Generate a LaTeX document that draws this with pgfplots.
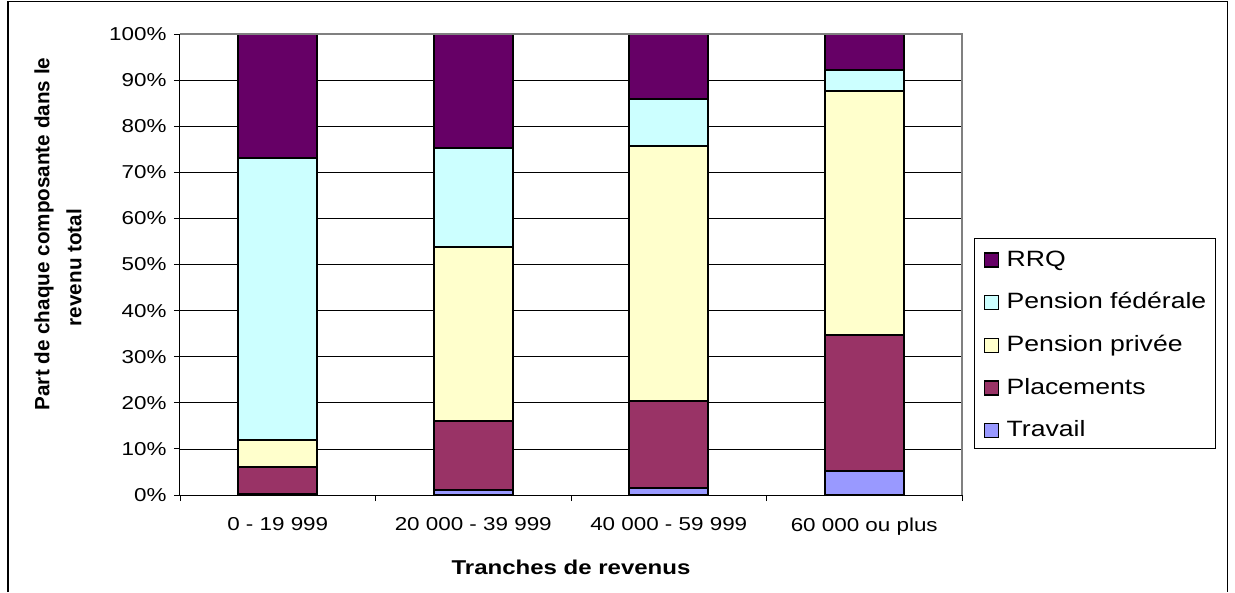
\documentclass[border=0pt]{standalone}
\usepackage{pgfplots}
\pgfplotsset{compat=1.18}
\usepackage{fontspec}
\setmainfont{Liberation Sans}[FakeStretch=1.2]
\newfontfamily\ylabfont{Liberation Sans}
\definecolor{crrq}{HTML}{660066}
\definecolor{cfed}{HTML}{CCFFFF}
\definecolor{cpriv}{HTML}{FFFFCC}
\definecolor{cplac}{HTML}{993366}
\definecolor{ctrav}{HTML}{9999FF}
\begin{document}
\begin{tikzpicture}[x=0.6pt,y=0.6pt]
\useasboundingbox (0,0) rectangle (1235,592);
\draw[line width=0.7pt] (8,0) -- (8,590.7) -- (1227.7,590.7) -- (1227.7,0);
\begin{axis}[
  at={(108pt,58.2pt)}, anchor=south west,
  width=469.2pt, height=276.6pt, scale only axis,
  ybar stacked, bar width=47.4pt,
  xmin=-0.5, xmax=3.5, ymin=0, ymax=100,
  xtick={0,1,2,3},
  xticklabels={0 - 19 999, 20 000 - 39 999, 40 000 - 59 999, 60 000 ou plus},
  minor xtick={-0.5,0.5,1.5,2.5,3.5},
  ytick={0,10,...,100},
  yticklabel={\pgfmathprintnumber{\tick}\%},
  tick align=outside,
  major tick length=3.6pt, minor tick length=3.6pt,
  major x tick style={draw=none},
  minor x tick style={black, line width=0.5pt},
  ytick style={black, line width=0.5pt},
  axis x line*=bottom, axis y line*=left,
  axis line style={black, line width=0.6pt, -},
  ymajorgrids, grid style={black, line width=0.45pt},
  ticklabel style={font=\fontsize{11.2}{13}\selectfont},
  xticklabel style={yshift=-6.5pt},
  yticklabel style={xshift=-1pt},
  /pgf/number format/assume math mode=true,
  clip=false,
  every axis plot/.append style={draw=black, line width=1.2pt},
  reverse legend,
  legend cell align=left,
  legend style={at={(1.0153,0.5575)}, anchor=north west,
    draw=black, line width=0.5pt,
    font=\fontsize{13.3}{16}\selectfont,
    row sep=10.2pt, inner xsep=4pt, inner ysep=4pt,
    nodes={text height=11pt, text depth=1.2pt, inner sep=1.6pt}},
  legend image code/.code={\draw[#1, line width=0.8pt] (1.6pt,-5.4pt) rectangle (10pt,3pt); \path (0pt,0pt) (12.6pt,0pt);},
]
\draw[gray, line width=1pt] (rel axis cs:0,1) -- (rel axis cs:1,1) -- (rel axis cs:1,0);
\addplot[fill=ctrav] coordinates {(0,0.2) (1,1.1) (2,1.6) (3,5.1)};
\addlegendentry{Travail}
\addplot[fill=cplac] coordinates {(0,5.8) (1,15.0) (2,18.9) (3,29.6)};
\addlegendentry{Placements}
\addplot[fill=cpriv] coordinates {(0,5.9) (1,37.8) (2,55.2) (3,53.0)};
\addlegendentry{Pension privée}
\addplot[fill=cfed] coordinates {(0,61.3) (1,21.3) (2,10.3) (3,4.6)};
\addlegendentry{Pension fédérale}
\addplot[fill=crrq] coordinates {(0,26.8) (1,24.8) (2,14.0) (3,7.7)};
\addlegendentry{RRQ}
\end{axis}
\node[font=\ylabfont\bfseries\fontsize{12.4}{14}\selectfont, rotate=90] at (44,358) {Part de chaque composante dans le};
\node[font=\ylabfont\bfseries\fontsize{12.4}{14}\selectfont, rotate=90] at (74,324.5) {revenu total};
\node[font=\bfseries\fontsize{12}{14}\selectfont] at (571,25) {Tranches de revenus};
\end{tikzpicture}
\end{document}
